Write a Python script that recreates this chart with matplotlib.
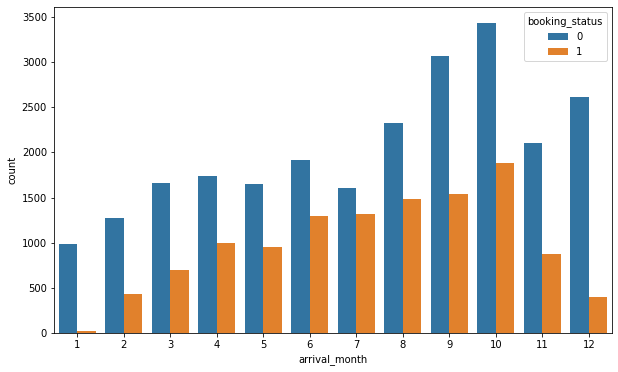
import matplotlib
matplotlib.use("Agg")
import matplotlib.pyplot as plt
import numpy as np

months = ["1", "2", "3", "4", "5", "6", "7", "8", "9", "10", "11", "12"]
status0 = [990, 1274, 1658, 1741, 1650, 1912, 1606, 2325, 3073, 3437, 2105, 2619]
status1 = [24, 430, 700, 995, 953, 1291, 1314, 1488, 1538, 1880, 875, 402]
hue_labels = ["0", "1"]
colors = ["#3274a1", "#e1812c"]

fig = plt.figure(figsize=(618/72, 372/72), dpi=72)
ax = fig.add_axes([54/618, 1-333/372, (612-54)/618, (333-7.3)/372])

x = np.arange(len(months))
w = 0.4
ax.bar(x - w/2, status0, width=w, color=colors[0], label=hue_labels[0])
ax.bar(x + w/2, status1, width=w, color=colors[1], label=hue_labels[1])
ax.set_xticks(x)
ax.set_xticklabels(months)
ax.set_xlim(-0.5, len(months) - 0.5)
ax.set_ylim(0, max(status0) * 1.05)
ax.set_xlabel("arrival_month")
ax.set_ylabel("count")
ax.legend(title="booking_status", loc="upper right")

fig.savefig("out.png", dpi=72)
